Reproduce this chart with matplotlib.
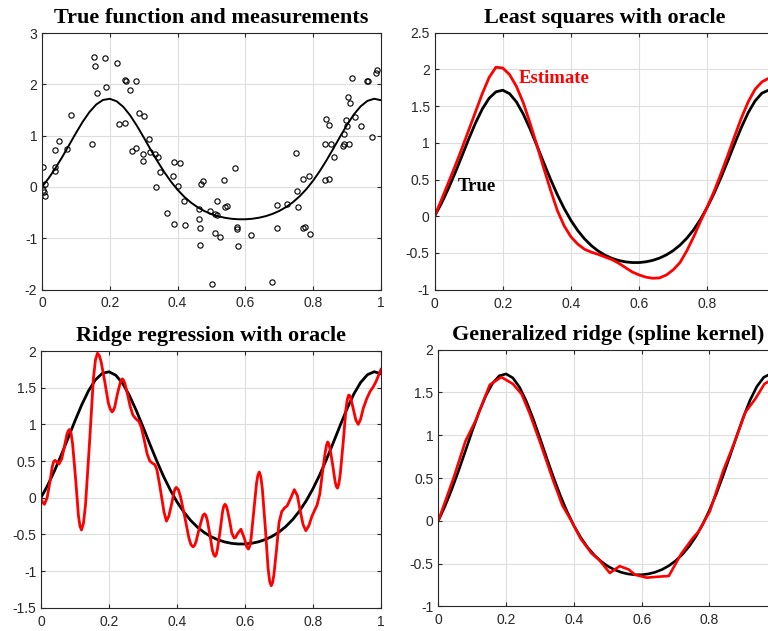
import numpy as np
import matplotlib
matplotlib.use("Agg")
import matplotlib.pyplot as plt
from matplotlib.ticker import FormatStrFormatter

# ---------------------------------------------------------------- data
# true function sampled on a regular grid
x_grid = np.linspace(0.0, 1.0, 51)
y_true = [0.000, 0.173, 0.370, 0.587, 0.817, 1.049, 1.269, 1.460, 1.607, 1.695,
          1.717, 1.670, 1.559, 1.394, 1.191, 0.965, 0.732, 0.506, 0.295, 0.107,
          -0.057, -0.195, -0.309, -0.401, -0.474, -0.531, -0.573, -0.603, -0.622,
          -0.631, -0.631, -0.621, -0.601, -0.570, -0.526, -0.468, -0.393, -0.299,
          -0.183, -0.042, 0.124, 0.314, 0.527, 0.754, 0.987, 1.212, 1.413, 1.571,
          1.677, 1.718, 1.690]

# noisy measurements
meas_x = [0.002, 0.002, 0.006, 0.008, 0.010, 0.037, 0.039, 0.037, 0.049, 0.073,
          0.085, 0.147, 0.153, 0.156, 0.162, 0.185, 0.189, 0.222, 0.226, 0.244,
          0.244, 0.249, 0.260, 0.277, 0.265, 0.276, 0.287, 0.300, 0.297, 0.297,
          0.316, 0.318, 0.334, 0.342, 0.348, 0.335, 0.369, 0.385, 0.388, 0.389,
          0.402, 0.408, 0.419, 0.422, 0.464, 0.464, 0.466, 0.466, 0.468, 0.475,
          0.497, 0.501, 0.511, 0.515, 0.510, 0.525, 0.517, 0.537, 0.541, 0.545,
          0.570, 0.574, 0.574, 0.578, 0.616, 0.679, 0.694, 0.694, 0.722, 0.749,
          0.751, 0.756, 0.769, 0.775, 0.771, 0.787, 0.791, 0.836, 0.838, 0.847,
          0.836, 0.848, 0.852, 0.860, 0.887, 0.890, 0.892, 0.907, 0.897, 0.900,
          0.904, 0.909, 0.913, 0.924, 0.942, 0.958, 0.962, 0.973, 0.984, 0.988]
meas_y = [0.39, -0.065, -0.10, -0.175, 0.065, 0.71, 0.38, 0.31, 0.90, 0.73,
          1.40, 0.83, 2.53, 2.36, 1.84, 2.51, 1.94, 2.41, 1.22, 1.25,
          2.08, 2.06, 1.89, 2.06, 0.70, 0.76, 1.44, 1.38, 0.64, 0.50,
          0.93, 0.69, 0.64, 0.58, 0.30, -0.01, -0.50, 0.22, 0.49, -0.73,
          0.02, 0.47, -0.28, -0.75, -0.62, -0.44, -0.81, -1.13, 0.05, 0.12,
          -0.46, -1.90, -0.53, -0.54, -0.90, -0.98, -0.27, 0.14, -0.40, -0.38,
          0.36, -0.82, -0.79, -1.16, -0.94, -1.86, -0.35, -0.80, -0.34, 0.66,
          -0.08, -0.40, -0.80, -0.79, 0.16, 0.21, -0.92, 0.84, 1.32, 1.20,
          0.13, 0.16, 0.83, 0.58, 0.79, 1.03, 0.84, 0.83, 1.30, 1.19,
          1.75, 1.63, 2.12, 1.36, 1.18, 2.06, 2.06, 0.97, 2.23, 2.28]

# least squares estimate (same grid as the true function)
ls_y = [0.00, 0.22, 0.45, 0.68, 0.92, 1.17, 1.42, 1.67, 1.89, 2.03,
        2.02, 1.93, 1.77, 1.55, 1.27, 0.97, 0.66, 0.36, 0.08, -0.13,
        -0.28, -0.38, -0.45, -0.49, -0.52, -0.555, -0.59, -0.64, -0.70, -0.76,
        -0.80, -0.83, -0.845, -0.84, -0.80, -0.73, -0.63, -0.47, -0.28, -0.07,
        0.13, 0.34, 0.58, 0.83, 1.09, 1.34, 1.56, 1.73, 1.83, 1.88, 1.90]

# ridge regression estimate
ridge_x = [0.000, 0.005, 0.010, 0.018, 0.026, 0.033, 0.037, 0.041, 0.047, 0.053,
           0.061, 0.069, 0.076, 0.0801, 0.084, 0.0884, 0.093, 0.102, 0.110, 0.1146,
           0.119, 0.1249, 0.131, 0.143, 0.154, 0.1601, 0.166, 0.1714, 0.177, 0.188,
           0.198, 0.2035, 0.209, 0.213, 0.217, 0.224, 0.232, 0.2355, 0.239, 0.243,
           0.247, 0.255, 0.262, 0.270, 0.278, 0.288, 0.295, 0.303, 0.312, 0.320,
           0.328, 0.335, 0.341, 0.348, 0.355, 0.362, 0.369, 0.376, 0.384, 0.391,
           0.3944, 0.398, 0.4041, 0.410, 0.423, 0.435, 0.4409, 0.447, 0.4513, 0.456,
           0.464, 0.473, 0.4768, 0.481, 0.4849, 0.489, 0.497, 0.504, 0.5081, 0.512,
           0.5156, 0.519, 0.527, 0.534, 0.5374, 0.541, 0.5444, 0.548, 0.555, 0.561,
           0.568, 0.5725, 0.578, 0.588, 0.599, 0.6045, 0.610, 0.614, 0.618, 0.626,
           0.634, 0.638, 0.642, 0.6464, 0.651, 0.660, 0.668, 0.6726, 0.677, 0.6809,
           0.685, 0.693, 0.700, 0.708, 0.716, 0.724, 0.735, 0.745, 0.754, 0.762,
           0.771, 0.779, 0.788, 0.797, 0.805, 0.812, 0.820, 0.828, 0.836, 0.840,
           0.843, 0.846, 0.850, 0.858, 0.865, 0.8685, 0.872, 0.876, 0.880, 0.889,
           0.897, 0.901, 0.905, 0.9085, 0.912, 0.919, 0.926, 0.933, 0.940, 0.948,
           0.958, 0.968, 0.977, 0.985, 0.993, 1.000]
ridge_y = [-0.02, -0.065, -0.09, 0.00, 0.21, 0.42, 0.49, 0.51, 0.485, 0.46,
           0.53, 0.70, 0.86, 0.912, 0.93, 0.878, 0.73, 0.245, -0.24, -0.388,
           -0.44, -0.348, -0.09, 0.77, 1.62, 1.878, 1.97, 1.94, 1.85, 1.57,
           1.29, 1.21, 1.17, 1.19, 1.24, 1.40, 1.55, 1.60, 1.62, 1.60,
           1.55, 1.40, 1.25, 1.13, 1.08, 1.04, 0.96, 0.80, 0.60, 0.50,
           0.47, 0.45, 0.38, 0.20, 0.00, -0.20, -0.32, -0.25, -0.09, 0.07,
           0.1225, 0.14, 0.109, 0.02, -0.265, -0.55, -0.639, -0.67, -0.653, -0.60,
           -0.445, -0.29, -0.237, -0.22, -0.242, -0.305, -0.51, -0.715, -0.778, -0.80,
           -0.773, -0.70, -0.445, -0.19, -0.117, -0.09, -0.1075, -0.16, -0.32, -0.48,
           -0.55, -0.54, -0.49, -0.43, -0.565, -0.665, -0.70, -0.66, -0.55, -0.175,
           0.20, 0.31, 0.35, 0.291, 0.12, -0.425, -0.97, -1.141, -1.20, -1.162,
           -1.05, -0.695, -0.34, -0.19, -0.14, -0.11, 0.00, 0.11, 0.03, -0.17,
           -0.37, -0.45, -0.38, -0.25, -0.17, -0.10, 0.05, 0.35, 0.62, 0.72,
           0.76, 0.74, 0.67, 0.445, 0.22, 0.155, 0.13, 0.19, 0.315, 0.765,
           1.215, 1.34, 1.40, 1.39, 1.34, 1.20, 1.06, 1.00, 1.07, 1.22,
           1.35, 1.45, 1.51, 1.58, 1.67, 1.75]

# generalized ridge with spline kernel
spline_x = [0.000, 0.045, 0.080, 0.110, 0.152, 0.186, 0.220, 0.246, 0.270, 0.300,
            0.339, 0.366, 0.391, 0.420, 0.452, 0.475, 0.506, 0.535, 0.562, 0.580,
            0.615, 0.645, 0.680, 0.716, 0.751, 0.767, 0.801, 0.840, 0.872, 0.906,
            0.936, 0.962, 0.975, 1.000]
spline_y = [0.00, 0.50, 0.93, 1.17, 1.59, 1.68, 1.60, 1.48, 1.25, 0.92,
            0.47, 0.18, 0.01, -0.21, -0.38, -0.46, -0.61, -0.53, -0.57, -0.63,
            -0.665, -0.655, -0.645, -0.39, -0.20, -0.13, 0.11, 0.58, 0.90, 1.27,
            1.43, 1.60, 1.63, 1.70]

x_ticks = [0, 0.2, 0.4, 0.6, 0.8, 1]
x_labels_full = ["0", "0.2", "0.4", "0.6", "0.8", "1"]
x_labels_right = ["0", "0.2", "0.4", "0.6", "0.8", ""]

# ---------------------------------------------------------------- style
plt.rcParams["axes.unicode_minus"] = False
TICK_FONT = "Liberation Sans"
TITLE_FONT = "Liberation Serif"
AX_COLOR = "#262626"
GRID_COLOR = "#dedede"
RED = "#ff0000"


def style_axes(ax, yticks, ylim, title, xlabels):
    ax.set_xlim(0, 1)
    ax.set_ylim(*ylim)
    ax.set_xticks(x_ticks)
    ax.set_xticklabels(xlabels)
    ax.set_yticks(yticks)
    ax.yaxis.set_major_formatter(FormatStrFormatter("%g"))
    ax.grid(True, color=GRID_COLOR, linewidth=0.8)
    ax.set_axisbelow(True)
    for sp in ax.spines.values():
        sp.set_color(AX_COLOR)
        sp.set_linewidth(0.8)
    ax.tick_params(direction="in", length=3, width=0.8, color=AX_COLOR,
                   top=True, right=True, labelcolor=AX_COLOR, labelsize=10)
    ax.tick_params(axis="x", pad=5)
    ax.tick_params(axis="y", pad=3.5)
    for lab in ax.get_xticklabels() + ax.get_yticklabels():
        lab.set_fontfamily(TICK_FONT)
    ax.set_title(title, fontfamily=TITLE_FONT, fontweight="bold",
                 fontsize=16, pad=7, color="black")


fig = plt.figure(figsize=(7.68, 6.31), dpi=100)

ax_tl = fig.add_axes([0.0547, 0.5412, 0.4414, 0.4065])
ax_tr = fig.add_axes([0.5658, 0.5410, 0.4440, 0.4071])
ax_bl = fig.add_axes([0.0534, 0.0369, 0.4427, 0.4068])
ax_br = fig.add_axes([0.5707, 0.0391, 0.4414, 0.4067])

# true function and measurements
ax_tl.plot(x_grid, y_true, color="black", lw=1.4)
ax_tl.plot(meas_x, meas_y, "o", mfc="none", mec="black", ms=3.8, mew=0.8)
style_axes(ax_tl, [-2, -1, 0, 1, 2, 3], (-2, 3),
           "True function and measurements", x_labels_full)

# least squares with oracle
ax_tr.plot(x_grid, y_true, color="black", lw=2.0)
ax_tr.plot(x_grid, ls_y, color=RED, lw=2.0)
ax_tr.text(0.248, 1.88, "Estimate", color=RED, fontfamily=TITLE_FONT,
           fontweight="bold", fontsize=13.5, ha="left", va="center")
ax_tr.text(0.069, 0.40, "True", color="black", fontfamily=TITLE_FONT,
           fontweight="bold", fontsize=13.5, ha="left", va="center")
style_axes(ax_tr, [-1, -0.5, 0, 0.5, 1, 1.5, 2, 2.5], (-1, 2.5),
           "Least squares with oracle", x_labels_right)

# ridge regression with oracle
ax_bl.plot(x_grid, y_true, color="black", lw=2.0)
ax_bl.plot(ridge_x, ridge_y, color=RED, lw=2.0)
style_axes(ax_bl, [-1.5, -1, -0.5, 0, 0.5, 1, 1.5, 2], (-1.5, 2),
           "Ridge regression with oracle", x_labels_full)

# generalized ridge, spline kernel
ax_br.plot(x_grid, y_true, color="black", lw=1.9)
ax_br.plot(spline_x, spline_y, color=RED, lw=1.9)
style_axes(ax_br, [-1, -0.5, 0, 0.5, 1, 1.5, 2], (-1, 2),
           "Generalized ridge (spline kernel)", x_labels_right)

fig.savefig("out.png", dpi=100)
